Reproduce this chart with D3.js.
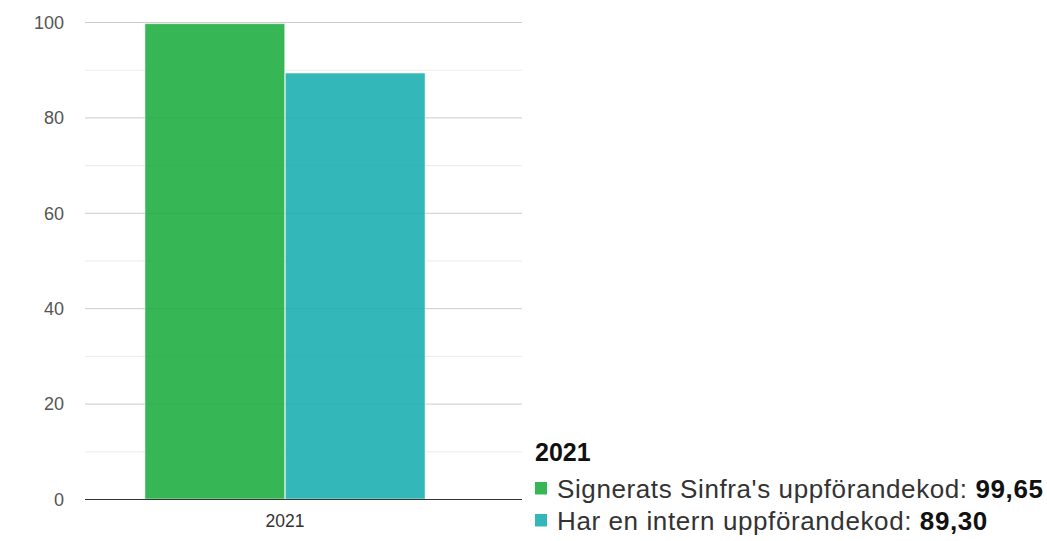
<!DOCTYPE html>
<html><head><meta charset="utf-8">
<script src="https://cdn.jsdelivr.net/npm/d3@7"></script>
<style>body{margin:0;background:#fff;}svg{display:block;font-family:"Liberation Sans",Arial,sans-serif;}</style>
</head><body>
<svg id="c" width="1047" height="541"></svg>
<script>
const categories = ["2021"];
const seriesNames = ["Signerats Sinfra's uppförandekod", "Har en intern uppförandekod"];
const seriesValues = [[99.65], [89.30]];
const seriesLabels = ["99,65", "89,30"];
const seriesColors = ["#1bac3f", "#17adaf"];
const yTicks = [0, 20, 40, 60, 80, 100];
const yGrid = [10, 30, 50, 70, 90];

(function () {
const svg = d3.select("#c");
const mLeft = 85, mRight = 522, mTop = 22, mBottom = 499;
const y = d3.scaleLinear().domain([0, 100]).range([mBottom, mTop]);
const x = d3.scaleBand().domain(categories).range([mLeft, 485]).paddingOuter(0.214).paddingInner(0);
const xs = d3.scaleBand().domain(d3.range(seriesNames.length)).range([0, x.bandwidth()]).paddingInner(0.004);

svg.append("g").selectAll("line").data(yGrid).join("line")
  .attr("x1", mLeft).attr("x2", mRight).attr("y1", d => y(d) + 0.5).attr("y2", d => y(d) + 0.5)
  .attr("stroke", "#ebebeb").attr("stroke-width", 1);
svg.append("g").selectAll("line").data(yTicks.filter(d => d > 0)).join("line")
  .attr("x1", mLeft).attr("x2", mRight).attr("y1", d => y(d) + 0.5).attr("y2", d => y(d) + 0.5)
  .attr("stroke", "#cccccc").attr("stroke-width", 1);

categories.forEach((cat, ci) => {
  svg.append("g").selectAll("rect").data(seriesValues.map((v, i) => ({i, v: v[ci]}))).join("rect")
    .attr("x", d => x(cat) + xs(d.i))
    .attr("y", d => y(d.v))
    .attr("width", xs.bandwidth())
    .attr("height", d => y(0) - y(d.v))
    .attr("fill", d => seriesColors[d.i])
    .attr("fill-opacity", 0.88)
    .attr("stroke", "#ffffff").attr("stroke-opacity", 0.5).attr("stroke-width", 1);
});

svg.append("line").attr("x1", mLeft).attr("x2", mRight).attr("y1", y(0) + 0.5).attr("y2", y(0) + 0.5)
  .attr("stroke", "#333").attr("stroke-width", 1.2);

const yAxis = d3.axisLeft(y).tickValues(yTicks).tickSize(0).tickPadding(0);
const ya = svg.append("g").attr("transform", `translate(64,0)`).call(yAxis);
ya.select(".domain").remove();
ya.selectAll("text").attr("font-size", 18).attr("fill", "#555").attr("font-family", "Liberation Sans, Arial, sans-serif").attr("dy", "0.35em");

const xAxis = d3.axisBottom(x).tickSize(0).tickPadding(0);
const xa = svg.append("g").attr("transform", `translate(0,${mBottom + 28})`).call(xAxis);
xa.select(".domain").remove();
xa.selectAll("text").attr("font-size", 17.5).attr("fill", "#333").attr("font-family", "Liberation Sans, Arial, sans-serif").attr("dy", "0");

const lg = svg.append("g").attr("font-family", "Liberation Sans, Arial, sans-serif");
lg.append("text").attr("x", 535).attr("y", 461).attr("font-size", 25).attr("font-weight", "bold").attr("fill", "#111").text(categories[0]);
seriesNames.forEach((n, i) => {
  const by = 498 + i * 32;
  lg.append("rect").attr("x", 535).attr("y", by - 16).attr("width", 12).attr("height", 12.5).attr("fill", seriesColors[i]).attr("fill-opacity", 0.88);
  const t = lg.append("text").attr("x", 557).attr("y", by).attr("font-size", 26).attr("letter-spacing", 0.6).attr("fill", "#333");
  t.append("tspan").text(n + ": ");
  t.append("tspan").attr("font-weight", "bold").attr("fill", "#111").text(seriesLabels[i]);
});
})();
</script>
</body></html>
